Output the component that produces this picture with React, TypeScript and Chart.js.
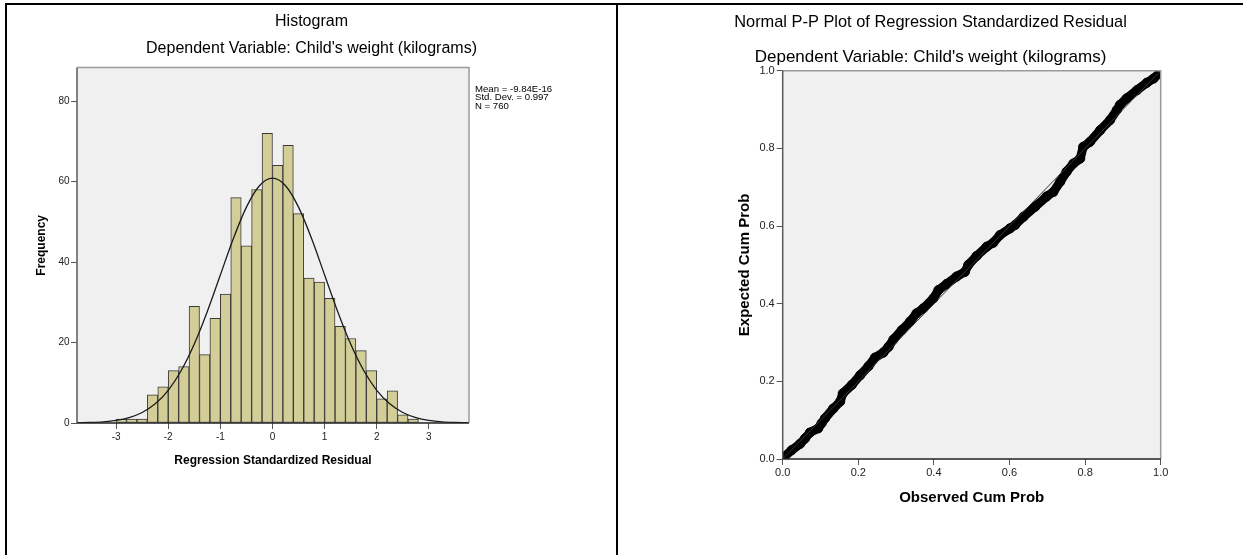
import React, { useEffect, useRef } from 'react';
import { Chart, registerables } from 'chart.js';

Chart.register(...registerables);

const FONT = "Arial, 'Liberation Sans', sans-serif";

// ---------- Histogram data ----------
const histTitle = 'Histogram';
const depSubtitle = "Dependent Variable: Child's weight (kilograms)";
const histXTitle = 'Regression Standardized Residual';
const histYTitle = 'Frequency';
const binCenters = [
  -2.9, -2.7, -2.5, -2.3, -2.1, -1.9, -1.7, -1.5, -1.3, -1.1, -0.9, -0.7, -0.5, -0.3, -0.1,
  0.1, 0.3, 0.5, 0.7, 0.9, 1.1, 1.3, 1.5, 1.7, 1.9, 2.1, 2.3, 2.5, 2.7,
];
const frequencies = [
  1, 1, 1, 7, 9, 13, 14, 29, 17, 26, 32, 56, 44, 58, 72,
  64, 69, 52, 36, 35, 31, 24, 21, 18, 13, 6, 8, 2, 1,
];
const curveX = [
  -3.75, -3.5, -3.25, -3, -2.75, -2.5, -2.25, -2, -1.75, -1.5, -1.25, -1, -0.75, -0.5, -0.25, 0,
  0.25, 0.5, 0.75, 1, 1.25, 1.5, 1.75, 2, 2.25, 2.5, 2.75, 3, 3.25, 3.5, 3.75,
];
const curveY = [
  0.05, 0.13, 0.3, 0.66, 1.36, 2.62, 4.77, 8.13, 13.03, 19.61, 27.72, 36.78, 45.84, 53.63, 58.94, 60.82,
  58.94, 53.63, 45.84, 36.78, 27.72, 19.61, 13.03, 8.13, 4.77, 2.62, 1.36, 0.66, 0.3, 0.13, 0.05,
];
const histXTicks = [-3, -2, -1, 0, 1, 2, 3];
const histYTicks = [0, 20, 40, 60, 80];
const statsLines = ['Mean = -9.84E-16', 'Std. Dev. = 0.997', 'N = 760'];

// ---------- P-P plot data ----------
const ppTitle = 'Normal P-P Plot of Regression Standardized Residual';
const ppXTitle = 'Observed Cum Prob';
const ppYTitle = 'Expected Cum Prob';
const observedCum = [
  0.0, 0.002, 0.024, 0.046, 0.059, 0.072, 0.094, 0.103, 0.112, 0.134, 0.152, 0.159, 0.183, 0.205,
  0.227, 0.244, 0.266, 0.28, 0.293, 0.315, 0.337, 0.354, 0.372, 0.399, 0.412, 0.434, 0.46, 0.482,
  0.491, 0.513, 0.54, 0.557, 0.575, 0.601, 0.615, 0.637, 0.668, 0.698, 0.716, 0.734, 0.751, 0.769,
  0.787, 0.795, 0.813, 0.84, 0.866, 0.884, 0.892, 0.91, 0.937, 0.963, 0.981, 0.998, 1.0,
];
const expectedCum = [
  0.0, 0.004, 0.023, 0.039, 0.053, 0.068, 0.079, 0.092, 0.105, 0.13, 0.148, 0.169, 0.191, 0.216,
  0.239, 0.261, 0.274, 0.289, 0.308, 0.332, 0.354, 0.375, 0.388, 0.414, 0.435, 0.451, 0.47, 0.482,
  0.5, 0.523, 0.547, 0.557, 0.577, 0.594, 0.603, 0.624, 0.65, 0.676, 0.688, 0.714, 0.74, 0.761,
  0.774, 0.804, 0.817, 0.847, 0.873, 0.899, 0.912, 0.929, 0.95, 0.969, 0.98, 0.995, 1.0,
];
const diagonalX = [0, 1];
const diagonalY = [0, 1];
const ppTicks = [0, 0.2, 0.4, 0.6, 0.8, 1.0];

// ---------- plugins ----------
const plotFrame = {
  id: 'plotFrame',
  beforeDraw(chart: any) {
    const { ctx, chartArea: a } = chart;
    ctx.save();
    ctx.fillStyle = '#f0f0f0';
    ctx.fillRect(a.left, a.top, a.right - a.left, a.bottom - a.top);
    ctx.restore();
  },
  afterDatasetsDraw(chart: any) {
    const { ctx, chartArea: a } = chart;
    ctx.save();
    ctx.lineWidth = 1.5;
    ctx.strokeStyle = '#9a9a9a';
    ctx.beginPath();
    ctx.moveTo(a.left, a.top);
    ctx.lineTo(a.right, a.top);
    ctx.lineTo(a.right, a.bottom);
    ctx.stroke();
    ctx.strokeStyle = '#5a5a5a';
    ctx.beginPath();
    ctx.moveTo(a.left, a.top);
    ctx.lineTo(a.left, a.bottom);
    ctx.stroke();
    ctx.strokeStyle = '#222';
    ctx.beginPath();
    ctx.moveTo(a.left, a.bottom);
    ctx.lineTo(a.right, a.bottom);
    ctx.stroke();
    ctx.restore();
  },
};

const statsBox = {
  id: 'statsBox',
  afterDraw(chart: any) {
    const { ctx, chartArea: a } = chart;
    ctx.save();
    ctx.font = `9.6px ${FONT}`;
    ctx.fillStyle = '#000';
    ctx.textBaseline = 'middle';
    ctx.textAlign = 'left';
    statsLines.forEach((t, i) => ctx.fillText(t, a.right + 6, a.top + 22 + i * 8.2));
    ctx.restore();
  },
};

function tickSetter(values: number[]) {
  return (scale: any) => {
    scale.ticks = values.map((v) => ({ value: v }));
  };
}

// invisible axis used only to reserve room right of the plot
function spacerAxis(width: number): any {
  return {
    type: 'linear',
    position: 'right',
    display: true,
    grid: { display: false, drawTicks: false },
    border: { display: false },
    ticks: { display: false },
    afterFit: (s: any) => {
      s.width = width;
    },
  };
}

function ChartCanvas({ width, height, makeConfig }: { width: number; height: number; makeConfig: () => any }) {
  const ref = useRef<HTMLCanvasElement | null>(null);
  useEffect(() => {
    if (!ref.current) return;
    const chart = new Chart(ref.current, makeConfig());
    return () => chart.destroy();
  }, []);
  return <canvas ref={ref} width={width} height={height} style={{ display: 'block', width, height }} />;
}

function histConfig(): any {
  return {
    type: 'bar',
    data: {
      datasets: [
        {
          type: 'line',
          data: curveX.map((x, i) => ({ x, y: curveY[i] })),
          borderColor: '#1a1a1a',
          borderWidth: 1.3,
          pointRadius: 0,
          cubicInterpolationMode: 'monotone',
          fill: false,
          order: 0,
          clip: 0,
          yAxisID: 'y',
        },
        {
          type: 'bar',
          data: binCenters.map((x, i) => ({ x, y: frequencies[i] })),
          backgroundColor: '#d3ce97',
          borderColor: '#3a3a3a',
          borderWidth: 1,
          borderSkipped: false,
          barPercentage: 1,
          categoryPercentage: 1,
          order: 1,
          yAxisID: 'y',
        },
      ],
    },
    options: {
      responsive: false,
      animation: false,
      events: [],
      layout: { padding: { left: 0, right: 0, top: 0, bottom: 86.8 } },
      plugins: {
        legend: { display: false },
        tooltip: { enabled: false },
        title: {
          display: true,
          text: histTitle,
          color: '#000',
          font: { family: FONT, size: 16, weight: 'normal' },
          padding: { top: 7.4, bottom: 7.8 },
        },
        subtitle: {
          display: true,
          text: depSubtitle,
          color: '#000',
          font: { family: FONT, size: 16, weight: 'normal' },
          padding: { top: 0, bottom: 9 },
        },
      },
      scales: {
        x: {
          type: 'linear',
          offset: false,
          min: -3.75,
          max: 3.77,
          afterBuildTicks: tickSetter(histXTicks),
          grid: { offset: false, drawOnChartArea: false, drawTicks: true, tickLength: 6, color: '#555' },
          border: { display: false },
          ticks: { autoSkip: false, maxRotation: 0, padding: 2, color: '#222', font: { family: FONT, size: 10 } },
          title: {
            display: true,
            text: histXTitle,
            color: '#000',
            font: { family: FONT, size: 12, weight: 'bold' },
            padding: { top: 8.8, bottom: 0 },
          },
        },
        y: {
          type: 'linear',
          position: 'left',
          min: 0,
          max: 88.3,
          afterBuildTicks: tickSetter(histYTicks),
          afterFit: (s: any) => {
            s.width = 70;
          },
          grid: { drawOnChartArea: false, drawTicks: true, tickLength: 6, color: '#555' },
          border: { display: false },
          ticks: { autoSkip: false, padding: 1.5, color: '#222', font: { family: FONT, size: 10 } },
          title: {
            display: true,
            text: histYTitle,
            color: '#000',
            font: { family: FONT, size: 12, weight: 'bold' },
            padding: { top: 27, bottom: 0 },
          },
        },
        spacer: spacerAxis(147),
      },
    },
    plugins: [plotFrame, statsBox],
  };
}

function ppConfig(): any {
  return {
    type: 'scatter',
    data: {
      datasets: [
        {
          data: diagonalX.map((x, i) => ({ x, y: diagonalY[i] })),
          showLine: true,
          borderColor: '#333',
          borderWidth: 1,
          pointRadius: 0,
          order: 0,
          clip: 0,
          yAxisID: 'y',
        },
        {
          data: observedCum.map((x, i) => ({ x, y: expectedCum[i] })),
          showLine: true,
          borderColor: '#000',
          borderWidth: 9,
          borderCapStyle: 'round',
          borderJoinStyle: 'round',
          pointRadius: 4.6,
          pointBackgroundColor: '#000',
          pointBorderColor: '#000',
          pointBorderWidth: 1,
          order: 1,
          clip: 0,
          yAxisID: 'y',
        },
      ],
    },
    options: {
      responsive: false,
      animation: false,
      events: [],
      layout: { padding: { left: 0, right: 0, top: 0, bottom: 48 } },
      plugins: {
        legend: { display: false },
        tooltip: { enabled: false },
        title: {
          display: true,
          text: ppTitle,
          color: '#000',
          font: { family: FONT, size: 16.4, weight: 'normal' },
          padding: { top: 7.2, bottom: 15 },
        },
        subtitle: {
          display: true,
          text: depSubtitle,
          color: '#000',
          font: { family: FONT, size: 17, weight: 'normal' },
          padding: { top: 0, bottom: 3.5 },
        },
      },
      scales: {
        x: {
          type: 'linear',
          min: 0,
          max: 1,
          afterBuildTicks: tickSetter(ppTicks),
          grid: { drawOnChartArea: false, drawTicks: true, tickLength: 6, color: '#555' },
          border: { display: false },
          ticks: {
            autoSkip: false,
            maxRotation: 0,
            padding: 1.4,
            color: '#222',
            font: { family: FONT, size: 11 },
            callback: (v: any) => Number(v).toFixed(1),
          },
          title: {
            display: true,
            text: ppXTitle,
            color: '#000',
            font: { family: FONT, size: 15, weight: 'bold' },
            padding: { top: 8, bottom: 0 },
          },
        },
        y: {
          type: 'linear',
          position: 'left',
          min: 0,
          max: 1,
          afterBuildTicks: tickSetter(ppTicks),
          afterFit: (s: any) => {
            s.width = 164.7;
          },
          grid: { drawOnChartArea: false, drawTicks: true, tickLength: 6, color: '#555' },
          border: { display: false },
          ticks: {
            autoSkip: false,
            padding: 2,
            color: '#222',
            font: { family: FONT, size: 11 },
            callback: (v: any) => Number(v).toFixed(1),
          },
          title: {
            display: true,
            text: ppYTitle,
            color: '#000',
            font: { family: FONT, size: 15, weight: 'bold' },
            padding: { top: 118, bottom: 0 },
          },
        },
        spacer: spacerAxis(82.3),
      },
    },
    plugins: [plotFrame],
  };
}

export default function App() {
  return (
    <div style={{ position: 'absolute', left: 0, top: 0, width: 1243, height: 555, background: '#fff', overflow: 'hidden' }}>
      <div style={{ position: 'absolute', left: 5, top: 3, width: 1238, height: 2, background: '#000' }} />
      <div style={{ position: 'absolute', left: 5, top: 3, width: 2, height: 552, background: '#000' }} />
      <div style={{ position: 'absolute', left: 616, top: 3, width: 2, height: 552, background: '#000' }} />
      <div style={{ position: 'absolute', left: 7, top: 5 }}>
        <ChartCanvas width={609} height={550} makeConfig={histConfig} />
      </div>
      <div style={{ position: 'absolute', left: 618, top: 5 }}>
        <ChartCanvas width={625} height={550} makeConfig={ppConfig} />
      </div>
    </div>
  );
}
